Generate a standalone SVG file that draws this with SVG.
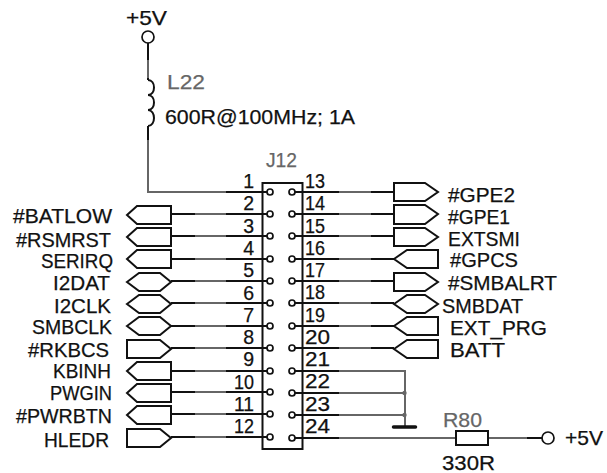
<svg xmlns="http://www.w3.org/2000/svg" width="607" height="473" viewBox="0 0 607 473">
<style>
text{font-family:"Liberation Sans",Arial,sans-serif;fill:#111;font-size:21px;stroke:#111;stroke-width:.25}
.n{font-size:19.500px}
.g{fill:#666;stroke:#666;font-size:21px}
.w{fill:none;stroke:#111;stroke-width:2}
.s{fill:none;stroke:#666;stroke-width:2}
.p{fill:#fff;stroke:#111;stroke-width:2}
.c{fill:#fff;stroke:#111;stroke-width:1.7}
</style>
<rect width="607" height="473" fill="#fff"/>
<g id="connectors">
<path class="w" d="M148 43V80M148 126V192H267M171 214H267M171 236H267M171 259H267M171 281H267M171 303H267M171 326H267M171 348H267M171 371H267M171 392H267M171 414H267M171 437H267"/>
<path class="s" d="M148 60V78M148 140V192H226M195 214H226M195 236H226M195 259H226M195 281H226M195 303H226M195 326H226M195 348H226M195 371H226M195 392H226M195 414H226M195 437H226"/>
<path class="w" d="M295 192H394M295 214H394M295 236H394M295 259H394M295 281H394M295 303H394M295 326H394M295 348H394"/>
<path class="s" d="M339 192H371M339 214H371M339 236H371M339 259H371M339 281H371M339 303H371M339 326H371M339 348H371"/>
<path class="w" d="M295 371H339M295 393H339M295 415H339M295 438H339"/>
<path class="s" d="M339 371H405V427M339 393H405M339 415H405M339 438H456M488 438H527"/>
<path class="w" d="M527 438H542"/>
<circle cx="404.500" cy="393" r="2.200" fill="#666"/>
<circle cx="404.500" cy="415" r="2.200" fill="#666"/>
</g>
<g id="ground"><path d="M393.500 427H415.500" stroke="#111" stroke-width="3.500" stroke-linecap="round"/></g>
<g id="top-supply"><circle class="c" cx="148" cy="37" r="6"/><text x="126" y="25" textLength="41" lengthAdjust="spacingAndGlyphs">+5V</text></g>
<g id="L22">
<path class="w" d="M148 80C156 80 156 95 148 95C156 95 156 110 148 110C156 110 156 126 148 126"/>
<text class="g" x="167" y="89" textLength="38" lengthAdjust="spacingAndGlyphs">L22</text>
<text x="165" y="124" textLength="190" lengthAdjust="spacingAndGlyphs">600R@100MHz;  1A</text>
</g>
<g id="J12">
<rect x="262.500" y="183" width="40" height="266" fill="#fff" stroke="#111" stroke-width="2"/>
<text class="g" x="266" y="167" textLength="31" lengthAdjust="spacingAndGlyphs">J12</text>
<g id="J12-pins">
<path class="w" d="M262 192H267M262 214H267M262 236H267M262 259H267M262 281H267M262 303H267M262 326H267M262 348H267M262 371H267M262 392H267M262 414H267M262 437H267M295 192H302M295 214H302M295 236H302M295 259H302M295 281H302M295 303H302M295 326H302M295 348H302M295 371H302M295 393H302M295 415H302M295 438H302"/>
<g class="c">
<circle cx="270" cy="192" r="3"/><circle cx="270" cy="214" r="3"/><circle cx="270" cy="236" r="3"/><circle cx="270" cy="259" r="3"/><circle cx="270" cy="281" r="3"/><circle cx="270" cy="303" r="3"/><circle cx="270" cy="326" r="3"/><circle cx="270" cy="348" r="3"/><circle cx="270" cy="371" r="3"/><circle cx="270" cy="392" r="3"/><circle cx="270" cy="414" r="3"/><circle cx="270" cy="437" r="3"/>
<circle cx="292" cy="192" r="3"/><circle cx="292" cy="214" r="3"/><circle cx="292" cy="236" r="3"/><circle cx="292" cy="259" r="3"/><circle cx="292" cy="281" r="3"/><circle cx="292" cy="303" r="3"/><circle cx="292" cy="326" r="3"/><circle cx="292" cy="348" r="3"/><circle cx="292" cy="371" r="3"/><circle cx="292" cy="393" r="3"/><circle cx="292" cy="415" r="3"/><circle cx="292" cy="438" r="3"/>
</g>
</g>
<g id="J12-numbers">
<g text-anchor="end">
<text class="n" x="254" y="188">1</text><text class="n" x="254" y="210">2</text><text class="n" x="254" y="233">3</text><text class="n" x="254" y="255">4</text><text class="n" x="254" y="277">5</text><text class="n" x="254" y="300">6</text><text class="n" x="254" y="322">7</text><text class="n" x="254" y="344">8</text><text class="n" x="254" y="366">9</text>
</g>
<text class="n" x="234" y="389" textLength="20" lengthAdjust="spacingAndGlyphs">10</text><text class="n" x="234" y="411" textLength="20" lengthAdjust="spacingAndGlyphs">11</text><text class="n" x="234" y="433" textLength="20" lengthAdjust="spacingAndGlyphs">12</text>
<text class="n" x="305" y="188" textLength="20" lengthAdjust="spacingAndGlyphs">13</text><text class="n" x="305" y="210" textLength="20" lengthAdjust="spacingAndGlyphs">14</text><text class="n" x="305" y="233" textLength="20" lengthAdjust="spacingAndGlyphs">15</text><text class="n" x="305" y="255" textLength="20" lengthAdjust="spacingAndGlyphs">16</text><text class="n" x="305" y="277" textLength="20" lengthAdjust="spacingAndGlyphs">17</text><text class="n" x="305" y="299" textLength="20" lengthAdjust="spacingAndGlyphs">18</text><text class="n" x="305" y="322" textLength="20" lengthAdjust="spacingAndGlyphs">19</text><text class="n" x="305" y="344" textLength="25" lengthAdjust="spacingAndGlyphs">20</text><text class="n" x="305" y="366" textLength="25" lengthAdjust="spacingAndGlyphs">21</text><text class="n" x="305" y="388" textLength="25" lengthAdjust="spacingAndGlyphs">22</text><text class="n" x="305" y="411" textLength="25" lengthAdjust="spacingAndGlyphs">23</text><text class="n" x="305" y="433" textLength="25" lengthAdjust="spacingAndGlyphs">24</text>
</g>
</g>
<g id="BATLOW"><polygon class="p" points="127,215 137,206 171,206 171,224 137,224"/><text x="13" y="223" textLength="99" lengthAdjust="spacingAndGlyphs">#BATLOW</text></g>
<g id="RSMRST"><polygon class="p" points="127,237 137,228 171,228 171,246 137,246"/><text x="16" y="247" textLength="95" lengthAdjust="spacingAndGlyphs">#RSMRST</text></g>
<g id="SERIRQ"><polygon class="p" points="127,259 137,250 171,250 171,268 137,268"/><text x="41" y="268" textLength="72" lengthAdjust="spacingAndGlyphs">SERIRQ</text></g>
<g id="I2DAT"><polygon class="p" points="127,282 139,273 160,273 171,282 160,291 139,291"/><text x="53" y="290" textLength="57" lengthAdjust="spacingAndGlyphs">I2DAT</text></g>
<g id="I2CLK"><polygon class="p" points="127,304 139,295 160,295 171,304 160,313 139,313"/><text x="54" y="313" textLength="57" lengthAdjust="spacingAndGlyphs">I2CLK</text></g>
<g id="SMBCLK"><polygon class="p" points="127,326 139,317 160,317 171,326 160,335 139,335"/><text x="32" y="334" textLength="80" lengthAdjust="spacingAndGlyphs">SMBCLK</text></g>
<g id="RKBCS"><polygon class="p" points="127,340 160,340 171,349 160,358 127,358"/><text x="28" y="357" textLength="81" lengthAdjust="spacingAndGlyphs">#RKBCS</text></g>
<g id="KBINH"><polygon class="p" points="127,371 137,362 171,362 171,380 137,380"/><text x="53" y="378" textLength="58" lengthAdjust="spacingAndGlyphs">KBINH</text></g>
<g id="PWGIN"><polygon class="p" points="127,393 137,384 171,384 171,402 137,402"/><text x="50" y="400" textLength="62" lengthAdjust="spacingAndGlyphs">PWGIN</text></g>
<g id="PWRBTN"><polygon class="p" points="127,415 137,406 171,406 171,424 137,424"/><text x="16" y="423" textLength="96" lengthAdjust="spacingAndGlyphs">#PWRBTN</text></g>
<g id="HLEDR"><polygon class="p" points="127,429 160,429 171,438 160,447 127,447"/><text x="44" y="447" textLength="65" lengthAdjust="spacingAndGlyphs">HLEDR</text></g>
<g id="GPE2"><polygon class="p" points="394,183 425,183 438,192 425,201 394,201"/><text x="448" y="202" textLength="67" lengthAdjust="spacingAndGlyphs">#GPE2</text></g>
<g id="GPE1"><polygon class="p" points="394,205 425,205 438,214 425,224 394,224"/><text x="448" y="224" textLength="62" lengthAdjust="spacingAndGlyphs">#GPE1</text></g>
<g id="EXTSMI"><polygon class="p" points="394,228 425,228 438,237 425,246 394,246"/><text x="448" y="246" textLength="72" lengthAdjust="spacingAndGlyphs">EXTSMI</text></g>
<g id="GPCS"><polygon class="p" points="394,259 407,250 438,250 438,268 407,268"/><text x="450" y="267" textLength="68" lengthAdjust="spacingAndGlyphs">#GPCS</text></g>
<g id="SMBALRT"><polygon class="p" points="394,273 425,273 438,282 425,291 394,291"/><text x="448" y="290" textLength="109" lengthAdjust="spacingAndGlyphs">#SMBALRT</text></g>
<g id="SMBDAT"><polygon class="p" points="394,304 407,295 425,295 438,304 425,313 407,313"/><text x="442" y="313" textLength="81" lengthAdjust="spacingAndGlyphs">SMBDAT</text></g>
<g id="EXT_PRG"><polygon class="p" points="394,326 407,317 438,317 438,335 407,335"/><text x="450" y="335" textLength="97" lengthAdjust="spacingAndGlyphs">EXT_PRG</text></g>
<g id="BATT"><polygon class="p" points="394,349 407,340 438,340 438,358 407,358"/><text x="450" y="357" textLength="55" lengthAdjust="spacingAndGlyphs">BATT</text></g>
<g id="R80">
<rect x="456" y="431" width="32" height="14" fill="#fff" stroke="#111" stroke-width="2"/>
<text class="g" x="443" y="427" textLength="39" lengthAdjust="spacingAndGlyphs">R80</text>
<text x="442" y="470" textLength="53" lengthAdjust="spacingAndGlyphs">330R</text>
</g>
<g id="right-supply"><circle class="c" cx="548" cy="438" r="6"/><text x="565" y="445" textLength="38" lengthAdjust="spacingAndGlyphs">+5V</text></g>
</svg>
